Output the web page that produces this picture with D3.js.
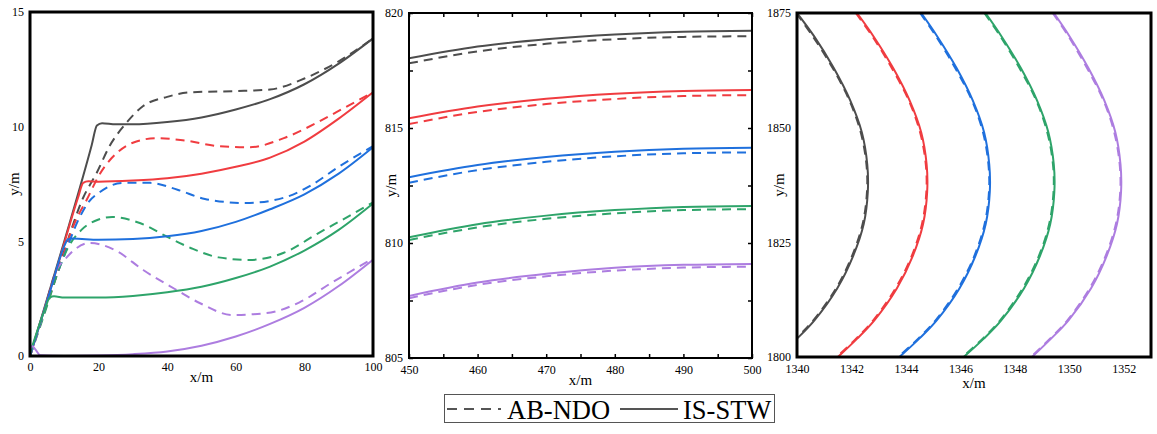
<!DOCTYPE html>
<html>
<head>
<meta charset="utf-8">
<script src="https://cdn.jsdelivr.net/npm/d3@7"></script>
<style>
    body { margin: 0; background: #fff; }
    svg text { font-family: "Liberation Serif", "Times New Roman", Times, serif; fill: #000; }
</style>
</head>
<body>
<script>

// vehicle colours, top platoon member first
let colors = ['#4d4d4d', '#f03c40', '#1f70dd', '#2ea46a', '#ad7de0']
let serif = '"Liberation Serif", "Times New Roman", Times, serif'

// ---- panel 1 : start of the manoeuvre (x/m, y/m) ----
let leftIS_gray = [[0, 0], [10, 5], [18, 9.2], [19.5, 10.05], [21, 10.15], [25, 10.1], [30, 10.1], [40, 10.2], [50, 10.4], [60, 10.75], [70, 11.2], [80, 11.85], [90, 12.75], [100, 13.85]]
let leftIS_red = [[0, 0], [8, 3.9], [14, 6.9], [15.5, 7.55], [17, 7.62], [20, 7.6], [30, 7.65], [40, 7.75], [50, 7.95], [60, 8.25], [70, 8.65], [80, 9.35], [90, 10.35], [100, 11.5]]
let leftIS_blue = [[0, 0], [6, 2.9], [10, 4.8], [11, 5.08], [12.5, 5.12], [20, 5.07], [30, 5.1], [40, 5.22], [50, 5.45], [60, 5.85], [70, 6.4], [80, 7.05], [90, 7.95], [100, 9.1]]
let leftIS_green = [[0, 0.1], [4, 1.9], [5.8, 2.55], [7, 2.6], [10, 2.55], [20, 2.55], [30, 2.62], [40, 2.78], [50, 3.02], [60, 3.4], [70, 3.9], [80, 4.6], [90, 5.5], [100, 6.65]]
let leftIS_purple = [[0, 0.3], [0.7, 0.42], [1.5, 0.3], [3, 0.03], [10, 0], [20, 0.02], [30, 0.08], [40, 0.2], [50, 0.45], [60, 0.85], [70, 1.4], [80, 2.1], [90, 3.05], [100, 4.2]]

let leftAB_gray = [[0, 0], [10, 4.6], [15.5, 6.9], [19.5, 8.0], [23, 9.1], [28, 10.15], [33, 10.9], [40, 11.3], [47, 11.5], [60, 11.55], [70, 11.62], [80, 12.1], [90, 12.85], [100, 13.85]]
let leftAB_red = [[0, 0], [8, 3.6], [13, 5.8], [16.5, 6.8], [20.4, 7.95], [25.3, 8.85], [30, 9.3], [37, 9.5], [45, 9.4], [55, 9.15], [64, 9.1], [74, 9.5], [84, 10.2], [92, 10.85], [100, 11.5]]
let leftAB_blue = [[0, 0], [7, 3.2], [10, 4.4], [14, 5.9], [17, 6.7], [20.4, 7.15], [27, 7.55], [35, 7.55], [43, 7.25], [51, 6.85], [63, 6.67], [74, 6.9], [82, 7.45], [90, 8.25], [100, 9.15]]
let leftAB_green = [[0, 0], [5, 2.2], [8, 3.6], [11, 4.7], [15, 5.5], [20, 5.95], [24, 6.06], [32, 5.8], [40, 5.2], [47, 4.7], [55, 4.3], [64, 4.19], [74, 4.5], [84, 5.35], [93, 6.1], [100, 6.7]]
let leftAB_purple = [[0, 0], [4, 1.9], [7.3, 3.6], [10.7, 4.3], [17.5, 4.93], [25, 4.6], [33, 3.75], [42.5, 2.9], [49.6, 2.3], [59, 1.79], [69, 1.87], [78.7, 2.35], [88, 3.2], [100, 4.25]]

// ---- panel 2 : straight section ----
let midX = [450, 460, 470, 480, 490, 500]
let midIS_gray = [818.03, 818.54, 818.86, 819.07, 819.19, 819.23]
let midIS_red = [815.42, 815.93, 816.27, 816.49, 816.61, 816.65]
let midIS_blue = [812.86, 813.39, 813.74, 813.97, 814.10, 814.14]
let midIS_green = [810.25, 810.82, 811.19, 811.43, 811.57, 811.61]
let midIS_purple = [807.70, 808.28, 808.66, 808.92, 809.05, 809.09]

let midAB_gray = [817.81, 818.33, 818.66, 818.86, 818.96, 818.99]
let midAB_red = [815.17, 815.70, 816.04, 816.26, 816.39, 816.43]
let midAB_blue = [812.62, 813.17, 813.53, 813.77, 813.90, 813.94]
let midAB_green = [810.13, 810.68, 811.05, 811.29, 811.43, 811.47]
let midAB_purple = [807.60, 808.18, 808.55, 808.80, 808.93, 808.97]

// ---- panel 3 : curve, x read at each y level ----
let rightY = [1875, 1870, 1863, 1856, 1849, 1842, 1836, 1829, 1822, 1815, 1808, 1804, 1800]
let rightIS_gray = [1340.0, 1340.62, 1341.35, 1341.95, 1342.38, 1342.58, 1342.6, 1342.45, 1342.06, 1341.48, 1340.64, 1340.0, 1339.28]
let rightIS_red = [1342.2, 1342.8, 1343.53, 1344.13, 1344.56, 1344.76, 1344.78, 1344.63, 1344.25, 1343.67, 1342.84, 1342.21, 1341.5]
let rightIS_blue = [1344.56, 1345.14, 1345.86, 1346.45, 1346.87, 1347.06, 1347.08, 1346.93, 1346.55, 1345.97, 1345.13, 1344.49, 1343.76]
let rightIS_green = [1346.92, 1347.5, 1348.22, 1348.81, 1349.23, 1349.43, 1349.45, 1349.3, 1348.92, 1348.34, 1347.5, 1346.86, 1346.12]
let rightIS_purple = [1349.43, 1350.0, 1350.7, 1351.28, 1351.69, 1351.88, 1351.9, 1351.75, 1351.37, 1350.8, 1349.97, 1349.33, 1348.63]

let rightAB_gray = [1339.97, 1340.57, 1341.31, 1341.92, 1342.34, 1342.55, 1342.57, 1342.41, 1342.02, 1341.44, 1340.6, 1339.96, 1339.24]
let rightAB_red = [1342.16, 1342.76, 1343.48, 1344.1, 1344.52, 1344.73, 1344.75, 1344.59, 1344.21, 1343.62, 1342.8, 1342.17, 1341.46]
let rightAB_blue = [1344.52, 1345.1, 1345.81, 1346.42, 1346.83, 1347.03, 1347.05, 1346.89, 1346.51, 1345.92, 1345.09, 1344.45, 1343.72]
let rightAB_green = [1346.88, 1347.46, 1348.17, 1348.78, 1349.19, 1349.4, 1349.42, 1349.26, 1348.88, 1348.29, 1347.46, 1346.82, 1346.08]
let rightAB_purple = [1349.39, 1349.96, 1350.65, 1351.25, 1351.65, 1351.85, 1351.87, 1351.71, 1351.33, 1350.75, 1349.93, 1349.29, 1348.59]

let xTicksLeft = [0, 20, 40, 60, 80, 100]
let yTicksLeft = [0, 5, 10, 15]
let xTicksMid = [450, 460, 470, 480, 490, 500]
let yTicksMid = [805, 810, 815, 820]
let xTicksRight = [1340, 1342, 1344, 1346, 1348, 1350, 1352]
let yTicksRight = [1800, 1825, 1850, 1875]

let legendLabels = ['AB-NDO', 'IS-STW']

let svgWidth = 1157
let svgHeight = 434

var svg = d3.select('body')
    .append('svg')
    .attr('width', svgWidth)
    .attr('height', svgHeight)

let dash = '9,6'

function panel(id, xDom, yDom, xr, yr, frameW) {
    let x = d3.scaleLinear().domain(xDom).range(xr)
    let y = d3.scaleLinear().domain(yDom).range(yr)
    let g = svg.append('g')

    svg.append('clipPath')
        .attr('id', id)
        .append('rect')
        .attr('x', xr[0])
        .attr('y', yr[1])
        .attr('width', xr[1] - xr[0])
        .attr('height', yr[0] - yr[1])

    let lines = g.append('g').attr('clip-path', `url(#${id})`)
    return {x, y, g, lines, xr, yr, frameW}
}

function drawFrame(p) {
    p.g.append('rect')
        .attr('x', p.xr[0])
        .attr('y', p.yr[1])
        .attr('width', p.xr[1] - p.xr[0])
        .attr('height', p.yr[0] - p.yr[1])
        .attr('fill', 'none')
        .attr('stroke', '#000')
        .attr('stroke-width', p.frameW)
}

function addLine(p, pts, color, dashed, curve) {
    let line = d3.line()
        .x(d => p.x(d[0]))
        .y(d => p.y(d[1]))
        .curve(curve)
    p.lines.append('path')
        .datum(pts)
        .attr('d', line)
        .attr('fill', 'none')
        .attr('stroke', color)
        .attr('stroke-width', 2)
        .attr('stroke-dasharray', dashed ? dash : null)
}

function axisLabels(p, xLab, yLab, xLabY) {
    p.g.append('text')
        .attr('x', (p.xr[0] + p.xr[1]) / 2)
        .attr('y', xLabY)
        .attr('text-anchor', 'middle')
        .attr('font-family', serif)
        .style('font-size', '15px')
        .text(xLab)
    p.g.append('text')
        .attr('transform', `translate(${yLab[1]},${(p.yr[0] + p.yr[1]) / 2}) rotate(-90)`)
        .attr('text-anchor', 'middle')
        .attr('font-family', serif)
        .style('font-size', '15px')
        .text(yLab[0])
}

function styleAxis(sel) {
    sel.attr('font-family', serif)
    sel.select('.domain').remove()
    sel.selectAll('text').style('font-size', '12px').style('font-family', serif)
    sel.selectAll('line').attr('stroke', '#000').attr('stroke-width', 1.5)
}

// ---------- panel 1 ----------
let p1 = panel('clipL', [0, 100], [0, 15], [30, 373], [356, 12], 3)
let leftIS = [leftIS_gray, leftIS_red, leftIS_blue, leftIS_green, leftIS_purple]
let leftAB = [leftAB_gray, leftAB_red, leftAB_blue, leftAB_green, leftAB_purple]
leftAB.forEach((s, i) => addLine(p1, s, colors[i], true, d3.curveMonotoneX))
leftIS.forEach((s, i) => addLine(p1, s, colors[i], false, d3.curveMonotoneX))

p1.g.append('g')
    .attr('transform', 'translate(0,356)')
    .call(d3.axisBottom(p1.x).tickValues(xTicksLeft).tickSize(0).tickPadding(6))
    .call(styleAxis)
p1.g.append('g')
    .attr('transform', 'translate(30,0)')
    .call(d3.axisLeft(p1.y).tickValues(yTicksLeft).tickSize(0).tickPadding(6))
    .call(styleAxis)
drawFrame(p1)
axisLabels(p1, 'x/m', ['y/m', 19], 382)

// ---------- panel 2 ----------
let p2 = panel('clipM', [450, 500], [805, 820], [409, 752], [358, 13], 2)
let midIS = [midIS_gray, midIS_red, midIS_blue, midIS_green, midIS_purple]
let midAB = [midAB_gray, midAB_red, midAB_blue, midAB_green, midAB_purple]
midAB.forEach((s, i) => addLine(p2, midX.map((v, j) => [v, s[j]]), colors[i], true, d3.curveMonotoneX))
midIS.forEach((s, i) => addLine(p2, midX.map((v, j) => [v, s[j]]), colors[i], false, d3.curveMonotoneX))

let midMinorX = d3.range(450, 501, 5)
let midMinorY = d3.range(805, 820.1, 2.5)
p2.g.append('g')
    .attr('transform', 'translate(0,358)')
    .call(d3.axisBottom(p2.x).tickValues(midMinorX).tickSize(-4).tickPadding(7)
        .tickFormat(d => xTicksMid.includes(d) ? d : ''))
    .call(styleAxis)
p2.g.append('g')
    .attr('transform', 'translate(0,13)')
    .call(d3.axisTop(p2.x).tickValues(midMinorX).tickSize(-4).tickFormat(''))
    .call(styleAxis)
p2.g.append('g')
    .attr('transform', 'translate(409,0)')
    .call(d3.axisLeft(p2.y).tickValues(midMinorY).tickSize(-4).tickPadding(6)
        .tickFormat(d => yTicksMid.includes(d) ? d : ''))
    .call(styleAxis)
p2.g.append('g')
    .attr('transform', 'translate(752,0)')
    .call(d3.axisRight(p2.y).tickValues(midMinorY).tickSize(-4).tickFormat(''))
    .call(styleAxis)
drawFrame(p2)
axisLabels(p2, 'x/m', ['y/m', 396], 385)

// ---------- panel 3 ----------
let p3 = panel('clipR', [1340, 1353], [1800, 1875], [797, 1151], [357, 13], 3)
let rightIS = [rightIS_gray, rightIS_red, rightIS_blue, rightIS_green, rightIS_purple]
let rightAB = [rightAB_gray, rightAB_red, rightAB_blue, rightAB_green, rightAB_purple]
rightAB.forEach((s, i) => addLine(p3, rightY.map((v, j) => [s[j], v]), colors[i], true, d3.curveCatmullRom))
rightIS.forEach((s, i) => addLine(p3, rightY.map((v, j) => [s[j], v]), colors[i], false, d3.curveCatmullRom))

p3.g.append('g')
    .attr('transform', 'translate(0,357)')
    .call(d3.axisBottom(p3.x).tickValues(xTicksRight).tickSize(0).tickPadding(7).tickFormat(d3.format('d')))
    .call(styleAxis)
p3.g.append('g')
    .attr('transform', 'translate(797,0)')
    .call(d3.axisLeft(p3.y).tickValues(yTicksRight).tickSize(0).tickPadding(6).tickFormat(d3.format('d')))
    .call(styleAxis)
drawFrame(p3)
axisLabels(p3, 'x/m', ['y/m', 784], 388)

// ---------- legend ----------
let legend = svg.append('g')
legend.append('rect')
    .attr('x', 444.5)
    .attr('y', 394.5)
    .attr('width', 330)
    .attr('height', 28)
    .attr('fill', '#fff')
    .attr('stroke', '#555')
    .attr('stroke-width', 1)

let legendItems = [
    {label: legendLabels[0], dashed: true, x1: 447, x2: 501, tx: 507},
    {label: legendLabels[1], dashed: false, x1: 620, x2: 678, tx: 683}
]
legendItems.forEach(it => {
    legend.append('line')
        .attr('x1', it.x1)
        .attr('x2', it.x2)
        .attr('y1', 409)
        .attr('y2', 409)
        .attr('stroke', '#555')
        .attr('stroke-width', 2)
        .attr('stroke-dasharray', it.dashed ? '10,7' : null)
    legend.append('text')
        .attr('x', it.tx)
        .attr('y', 419)
        .attr('font-family', serif)
        .style('font-size', '26.5px')
        .text(it.label)
})

</script>
</body>
</html>
